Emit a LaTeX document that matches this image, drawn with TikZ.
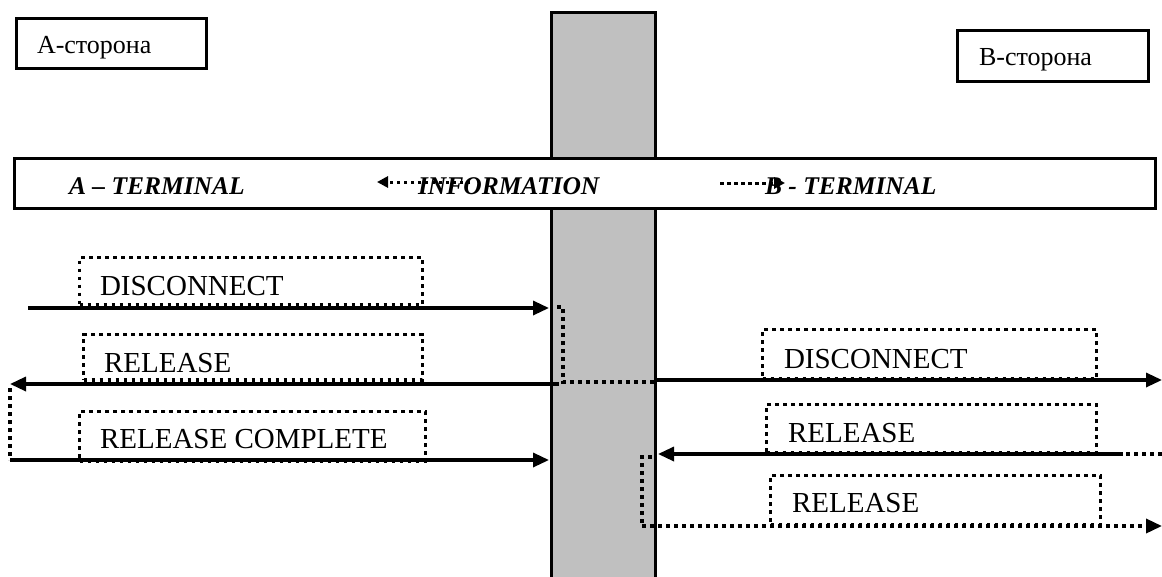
\documentclass[tikz,border=0pt]{standalone}
\usepackage{fontspec}
\setmainfont{Liberation Serif}
\usetikzlibrary{arrows.meta}
\definecolor{colgray}{RGB}{192,192,192}
\begin{document}
\begin{tikzpicture}[x=1pt,y=-1pt,
  every node/.style={inner sep=0pt, outer sep=0pt},
  frame/.style={draw, line width=3.3pt, fill=white, rectangle},
  colbox/.style={draw, line width=3.3pt, fill=colgray, rectangle},
  msgbox/.style={draw, line width=3.5pt, dash pattern=on 3.8pt off 4.2pt, rectangle},
  msgtext/.style={anchor=base west, font=\fontsize{29}{32}\selectfont},
  sidetext/.style={anchor=base west, font=\fontsize{26}{28}\selectfont},
  bartext/.style={anchor=base west, font=\fontsize{25.5}{28}\selectfont\bfseries\itshape},
  sig/.style={line width=3.3pt, -{Triangle[length=16pt,width=14pt]}},
  dotsig/.style={line width=3.5pt, dash pattern=on 3.8pt off 4.2pt, -{Triangle[length=16pt,width=14pt]}},
  dotline/.style={line width=3.5pt, dash pattern=on 3.8pt off 4.2pt},
  infoarrow/.style={line width=3pt, dash pattern=on 3.5pt off 3.5pt, -{Triangle[length=11pt,width=11pt]}},
]
\useasboundingbox (0,0) rectangle (1162,576);

% side labels
\node[frame, minimum width=190pt, minimum height=50pt] (aside) at (111.5,43.5) {};
\node[sidetext] (asideT) at (37,53.5) {А-сторона};
\node[frame, minimum width=191pt, minimum height=51pt] (bside) at (1053,56) {};
\node[sidetext] (bsideT) at (979,65.5) {В-сторона};

% network column and terminal bar
\node[colbox, minimum width=104pt, minimum height=587.5pt] (col) at (603.5,306.25) {};
\node[frame, minimum width=1141pt, minimum height=50pt] (bar) at (585,183.5) {};
\node[bartext] (aterm) at (69,194) {A – TERMINAL};
\node[bartext] (info) at (418,194) {INFORMATION};
\node[bartext] (bterm) at (765,194) {B - TERMINAL};
\coordinate (infoL0) at (470,182);
\coordinate (infoL1) at (377,182);
\coordinate (infoR0) at (720,183);
\coordinate (infoR1) at (785,183);
\draw[infoarrow] (infoL0) -- (infoL1);
\draw[infoarrow] (infoR0) -- (infoR1);

% message labels, A side
\node[msgbox, minimum width=343pt, minimum height=47pt] (lDisc) at (251,281) {};
\node[msgtext] (lDiscT) at (100,295) {DISCONNECT};
\node[msgbox, minimum width=339pt, minimum height=45.5pt] (lRel) at (253,357.25) {};
\node[msgtext] (lRelT) at (104,372) {RELEASE};
\node[msgbox, minimum width=346pt, minimum height=49.5pt] (lRelC) at (252.5,436.25) {};
\node[msgtext] (lRelCT) at (100,448) {RELEASE COMPLETE};

% message labels, B side
\node[msgbox, minimum width=334pt, minimum height=49.5pt] (rDisc) at (929.5,354.25) {};
\node[msgtext] (rDiscT) at (784,368) {DISCONNECT};
\node[msgbox, minimum width=330pt, minimum height=48.5pt] (rRel) at (931.5,428.75) {};
\node[msgtext] (rRelT) at (788,442) {RELEASE};
\node[msgbox, minimum width=330pt, minimum height=49.5pt] (rRel2) at (935.5,500.25) {};
\node[msgtext] (rRel2T) at (792,512) {RELEASE};

% signal end points
\coordinate (s1a) at (28,308);
\coordinate (s1b) at (549,308);
\coordinate (s2a) at (559,384);
\coordinate (s2b) at (10,384);
\coordinate (s3a) at (10,460);
\coordinate (s3b) at (549,460);
\coordinate (s4a) at (657,380);
\coordinate (s4b) at (1162,380);
\coordinate (s5o) at (1162,454);
\coordinate (s5a) at (1123,454);
\coordinate (s5b) at (658,454);
\coordinate (s6a) at (642,526);
\coordinate (s6b) at (1162,526);

% A side signals
\draw[sig] (s1a) -- (s1b);
\draw[sig] (s2a) -- (s2b);
\draw[sig] (s3a) -- (s3b);
\draw[dotline] (s2b |- 0,388) -- (s3a);

% path through the network
\draw[dotline] (557,307) -- (563,307) -- (563,382) -- (col.east |- 0,382);

% B side signals
\draw[sig] (s4a) -- (s4b);
\draw[dotline] (s5o) -- (s5a);
\draw[sig] (s5a) -- (s5b);
\draw[dotline] (652,457) -- (642,457) -- (s6a);
\draw[dotsig] (s6a) -- (s6b);
\end{tikzpicture}
\end{document}
